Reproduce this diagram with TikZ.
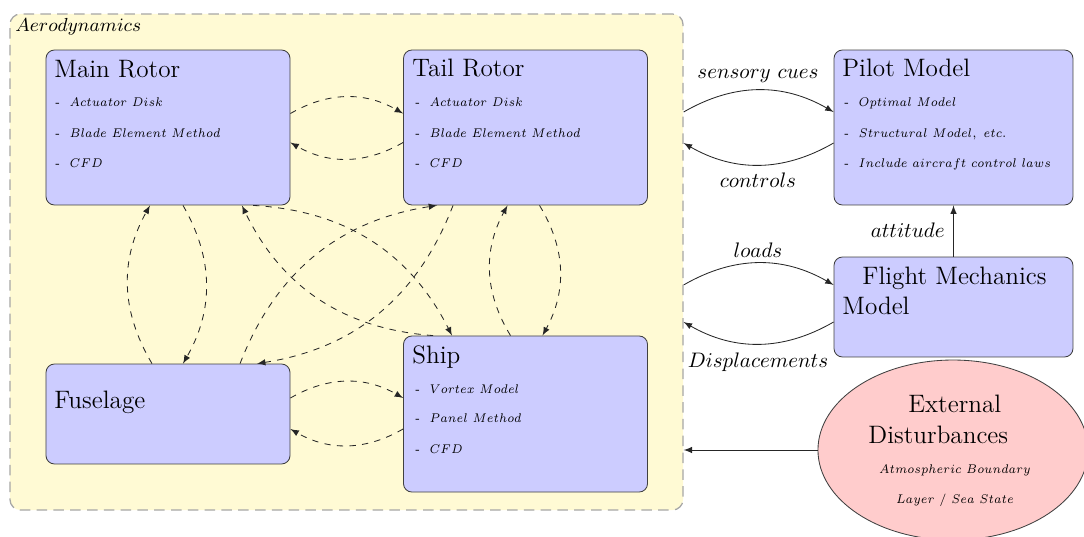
\documentclass[tikz,border=0pt]{standalone}
\usepackage{graphicx}
\usetikzlibrary{arrows,shapes.geometric}
\definecolor{aerofill}{RGB}{255,250,212}
\definecolor{boxfill}{RGB}{204,204,255}
\definecolor{distfill}{RGB}{255,204,204}
\newcommand{\narrowtext}[1]{\scalebox{0.9}[1]{#1}}
\newcommand{\modelitem}[1]{\narrowtext{-\ \ $#1$}}
\begin{document}
\begin{tikzpicture}[x=0.4762pt,y=-0.4762pt,
  model/.style={draw=black!75, fill=boxfill, rounded corners=4pt,
                minimum width=116.2pt, inner sep=0pt},
  heading/.style={font=\large, inner sep=0pt, anchor=base west},
  entry/.style={font=\fontsize{6}{7}\selectfont, inner sep=0pt, anchor=base west},
  link/.style={dashed, -latex, black!85},
  flow/.style={-latex, black!85},
  lbl/.style={inner sep=0pt, anchor=base}]
\useasboundingbox (0,0) rectangle (1084,536);
\clip (0,0) rectangle (1084,536);

% aerodynamics group
\node[draw=black!35, dash pattern=on 5pt off 3pt, line width=0.6pt, fill=aerofill,
      rounded corners=5pt, minimum width=320.5pt, minimum height=236.2pt, inner sep=0pt]
      (aero) at (346.5,262) {};
\node[font=\small, inner sep=0pt, anchor=base west] (aero-l) at (15,31) {$Aerodynamics$};

% model boxes
\node[model, minimum height=73.8pt] (mr) at (168,127.5) {};
\node[model, minimum height=73.8pt] (tr) at (525.5,127.5) {};
\node[model, minimum height=47.6pt] (fus) at (168,414) {};
\node[model, minimum height=74.3pt] (ship) at (525.5,414) {};
\node[model, minimum width=113.8pt, minimum height=73.8pt] (pilot) at (953.5,127.5) {};
\node[model, minimum width=113.8pt, minimum height=47.6pt] (fm) at (953.5,307) {};
\node[ellipse, draw=black!75, fill=distfill, minimum width=128.6pt,
      minimum height=85.7pt, inner sep=0pt] (ext) at (953,450) {};

% headings
\node[heading] (mr-h) at (54,77) {Main Rotor};
\node[heading] (tr-h) at (412,76) {Tail Rotor};
\node[heading] (fus-h) at (54,408) {Fuselage};
\node[heading] (ship-h) at (412,363) {Ship};
\node[heading] (pilot-h) at (842,76) {Pilot Model};
\node[heading] (fm-h1) at (862,284) {Flight Mechanics};
\node[heading] (fm-h2) at (842,314) {Model};
\node[heading] (ext-h1) at (908,412) {External};
\node[heading] (ext-h2) at (868,443) {Disturbances};

% method lists
\node[entry] (mr-1) at (55,106) {\modelitem{Actuator\ Disk}};
\node[entry] (mr-2) at (55,137) {\modelitem{Blade\ Element\ Method}};
\node[entry] (mr-3) at (55,167) {\modelitem{CFD}};
\node[entry] (tr-1) at (415,106) {\modelitem{Actuator\ Disk}};
\node[entry] (tr-2) at (415,137) {\modelitem{Blade\ Element\ Method}};
\node[entry] (tr-3) at (415,167) {\modelitem{CFD}};
\node[entry] (ship-1) at (415,393) {\modelitem{Vortex\ Model}};
\node[entry] (ship-2) at (415,422) {\modelitem{Panel\ Method}};
\node[entry] (ship-3) at (415,453) {\modelitem{CFD}};
\node[entry] (pilot-1) at (844,106) {\modelitem{Optimal\ Model}};
\node[entry] (pilot-2) at (844,137) {\modelitem{Structural\ Model,\ etc.}};
\node[entry] (pilot-3) at (844,167) {\modelitem{Include\ aircraft\ control\ laws}};
\node[entry, anchor=base] (ext-1) at (955,473) {\narrowtext{$Atmospheric\ Boundary$}};
\node[entry, anchor=base] (ext-2) at (955,503) {\narrowtext{$Layer\ /\ Sea\ State$}};

% aerodynamic interactions
\draw[link] ([yshift=6.67pt]mr.east) to[bend left] ([yshift=6.67pt]tr.west);
\draw[link] ([yshift=-7.14pt]tr.west) to[bend left] ([yshift=-7.14pt]mr.east);
\draw[link] ([yshift=7.62pt]fus.east) to[bend left] ([yshift=7.62pt]ship.west);
\draw[link] ([yshift=-7.14pt]ship.west) to[bend left] ([yshift=-7.14pt]fus.east);
\draw[link] ([xshift=7.14pt]mr.south) to[bend left] ([xshift=7.14pt]fus.north);
\draw[link] ([xshift=-7.62pt]fus.north) to[bend left] ([xshift=-8.57pt]mr.south);
\draw[link] ([xshift=6.67pt]tr.south) to[bend left] ([xshift=8.1pt]ship.north);
\draw[link] ([xshift=-7.14pt]ship.north) to[bend left] ([xshift=-8.57pt]tr.south);
\draw[link] ([xshift=40.5pt]mr.south) to[bend left] ([xshift=-35pt]ship.north);
\draw[link] ([xshift=-44pt]ship.north) to[bend left] ([xshift=35.2pt]mr.south);
\draw[link] ([xshift=-34.5pt]tr.south) to[bend left] ([xshift=42.4pt]fus.north);
\draw[link] ([xshift=34.3pt]fus.north) to[bend left] ([xshift=-42.1pt]tr.south);

% exchanges with pilot and flight mechanics
\coordinate (sc) at ([yshift=7.38pt]pilot.west);
\coordinate (ct) at ([yshift=-7.38pt]pilot.west);
\coordinate (ld) at ([yshift=10.5pt]fm.west);
\coordinate (dp) at ([yshift=-7.14pt]fm.west);
\draw[flow] (aero.east |- sc) to[bend left] (sc);
\draw[flow] (ct) to[bend left] (aero.east |- ct);
\draw[flow] (aero.east |- ld) to[bend left] (ld);
\draw[flow] (dp) to[bend left] (aero.east |- dp);
\draw[flow] (fm.north) -- (pilot.south);
\draw[flow] (ext.west) -- (aero.east |- ext.west);

% connector labels
\node[lbl] (l-sc) at (758,78) {$sensory\ cues$};
\node[lbl] (l-ct) at (758,187) {$controls$};
\node[lbl, anchor=base east] (l-at) at (945,237) {$attitude$};
\node[lbl] (l-ld) at (758,257) {$loads$};
\node[lbl] (l-dp) at (758,367) {$Displacements$};
\end{tikzpicture}
\end{document}
